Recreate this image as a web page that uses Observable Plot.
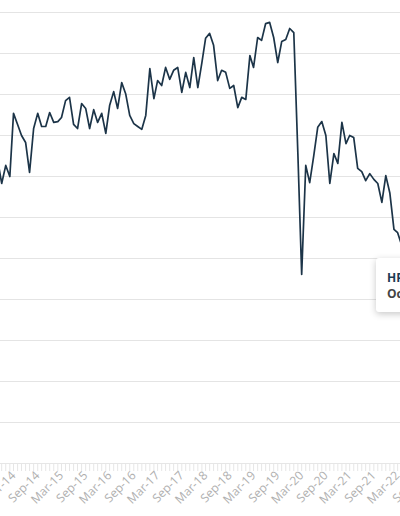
<!DOCTYPE html>
<html>
<head>
<meta charset="utf-8">
<script src="https://cdn.jsdelivr.net/npm/d3@7"></script>
<script src="https://cdn.jsdelivr.net/npm/@observablehq/plot@0.6"></script>
<style>
  html, body { margin: 0; padding: 0; background: #fff; width: 400px; height: 516px; overflow: hidden; }
  #wrap { position: relative; width: 400px; height: 516px; overflow: hidden; }
  #chart svg { max-width: none !important; }
  .tip { position: absolute; left: 376px; top: 258px; width: 110px; height: 54px; background: #fff;
         box-shadow: 0 2px 7px rgba(0,0,0,0.22); border-radius: 3px; font-family: "Open Sans", sans-serif;
         font-size: 12px; font-weight: 700; line-height: 16px; padding: 12px 0 0 11px; box-sizing: border-box; white-space: nowrap; }
  .tip .t1 { color: #1d3a52; }
  .tip .t2 { color: #444; }
</style>
</head>
<body>
<div id="wrap">
  <div id="chart"></div>
  <div class="tip"><div class="t1">HPI</div><div class="t2">Oct-22</div></div>
</div>
<script>
// First month of the series and monthly values
const startMonth = "2013-11";
const values = [
  73.9, 68.3, 72.7, 70.0,
  85.4, 82.7, 80.0, 78.3, 71.0, 81.7, 85.4, 82.2, 82.2, 85.6,
  83.2, 83.4, 84.4, 88.5, 89.3, 82.7, 81.7, 87.8, 86.6, 81.7, 86.3, 83.2,
  85.4, 80.5, 87.3, 90.7, 86.6, 92.9, 90.2, 84.9, 82.9, 82.2, 81.5, 84.9,
  96.3, 89.0, 93.4, 92.2, 96.6, 93.7, 95.9, 96.6, 90.5, 95.4, 91.7, 99.0,
  91.7, 97.8, 103.7, 104.9, 102.0, 93.4, 95.9, 95.4, 91.5, 92.2, 86.8, 89.3,
  88.8, 99.5, 96.6, 103.9, 103.2, 107.3, 107.6, 103.9, 97.8, 102.9, 103.4, 106.1,
  105.1, 75.6, 46.1, 72.7, 68.5, 75.1, 82.0, 83.4, 80.0, 68.3, 75.6, 73.2,
  83.2, 78.0, 80.0, 79.5, 72.0, 71.2, 69.0, 70.7, 69.3, 68.3, 63.7, 70.2,
  65.9, 57.1, 56.3, 53.2
];
// x-axis labels
const labelTicks = ["Mar-14","Sep-14","Mar-15","Sep-15","Mar-16","Sep-16","Mar-17","Sep-17",
  "Mar-18","Sep-18","Mar-19","Sep-19","Mar-20","Sep-20","Mar-21","Sep-21","Mar-22","Sep-22"];
// y gridlines
const yTicks = [0, 10, 20, 30, 40, 50, 60, 70, 80, 90, 100, 110];
// visible date window
const xStart = "2013-11-22", xEnd = "2023-01-21";

const parseMonth = d3.utcParse("%Y-%m");
const parseLabel = d3.utcParse("%b-%y");
const fmtLabel = d3.utcFormat("%b-%y");
const t0 = parseMonth(startMonth);
const data = values.map((v, i) => ({date: d3.utcMonth.offset(t0, i), value: v}));
const labelDates = labelTicks.map(parseLabel);
const x0 = d3.utcParse("%Y-%m-%d")(xStart), x1 = d3.utcParse("%Y-%m-%d")(xEnd);
const monthTicks = d3.utcMonth.range(d3.utcMonth.ceil(x0), x1);

const chart = Plot.plot({
  width: 440,
  height: 516,
  marginTop: 12,
  marginBottom: 53,
  marginLeft: 0,
  marginRight: 0,
  style: {fontFamily: "'Open Sans', sans-serif", fontSize: "12px", color: "#aaa", background: "#fff", maxWidth: "none"},
  x: {type: "utc", domain: [x0, x1]},
  y: {domain: [0, 110], axis: null},
  marks: [
    Plot.gridY(yTicks, {stroke: "#e4e4e4", strokeOpacity: 1, strokeWidth: 1.2}),
    Plot.axisX({ticks: monthTicks, tickSize: 8, tickFormat: () => "", stroke: "#e6e6e6", strokeOpacity: 1}),
    Plot.axisX({ticks: labelDates, tickSize: 0, tickPadding: 10, tickRotate: -45, tickFormat: fmtLabel, fill: "#b0b0b0", fontSize: 12}),
    Plot.ruleY([0], {stroke: "#e6e6e6", strokeWidth: 1}),
    Plot.lineY(data, {x: "date", y: "value", stroke: "#1c3448", strokeWidth: 1.7})
  ]
});
document.getElementById("chart").appendChild(chart);
</script>
</body>
</html>
